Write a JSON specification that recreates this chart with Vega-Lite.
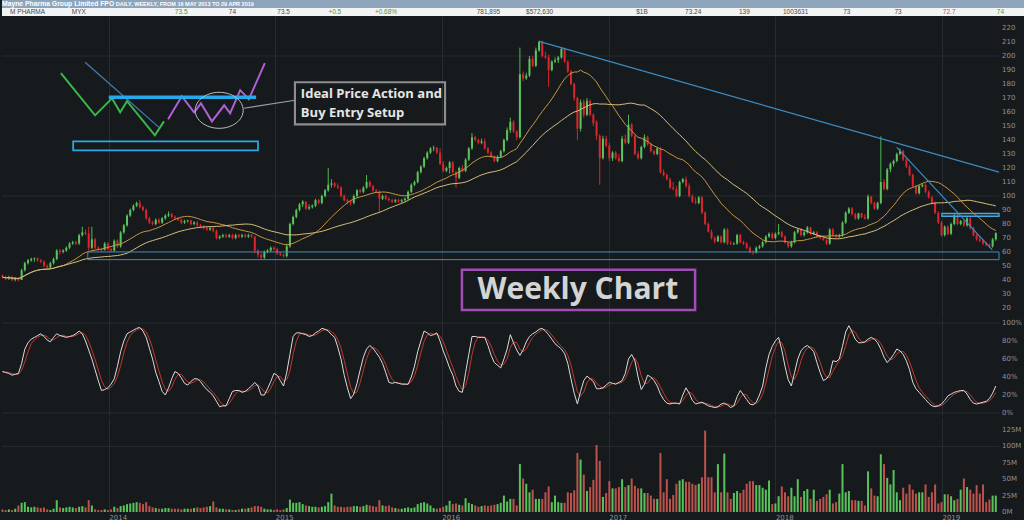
{
  "$schema": "https://vega.github.io/schema/vega-lite/v6.json",
  "background": "#161a1d",
  "padding": 0,
  "spacing": 0,
  "resolve": {"scale": {"color": "independent", "stroke": "independent", "strokeWidth": "independent", "x": "independent", "y": "independent"}},
  "config": {
    "view": {"stroke": null},
    "axis": {"labelFont": "DejaVu Sans", "labelFontSize": 7, "labelColor": "#8e9399", "domain": false, "ticks": false, "grid": false, "title": null, "labelFlush": false, "labelOverlap": false, "labelBound": false},
    "legend": {"disable": true}
  },
  "datasets": {
    "w": [
      {"d":"2013-05-13","o":43,"h":44,"l":41,"c":42,"v":4,"k":46},
      {"d":"2013-05-20","o":42,"h":43,"l":40,"c":41,"v":3,"k":45},
      {"d":"2013-05-27","o":41,"h":43,"l":40,"c":42,"v":4,"k":44},
      {"d":"2013-06-03","o":42,"h":43,"l":39,"c":40,"v":3,"k":42},
      {"d":"2013-06-10","o":40,"h":42,"l":39,"c":41,"v":5,"k":43},
      {"d":"2013-06-17","o":41,"h":42,"l":39,"c":40,"v":10,"k":44},
      {"d":"2013-06-24","o":40,"h":48,"l":40,"c":47,"v":14,"k":55},
      {"d":"2013-07-01","o":47,"h":53,"l":46,"c":52,"v":15,"k":71},
      {"d":"2013-07-08","o":52,"h":55,"l":51,"c":54,"v":8,"k":78},
      {"d":"2013-07-15","o":54,"h":56,"l":53,"c":55,"v":7,"k":82},
      {"d":"2013-07-22","o":55,"h":56,"l":53,"c":55.5,"v":8,"k":84},
      {"d":"2013-07-29","o":55.5,"h":56,"l":53,"c":54,"v":7,"k":86},
      {"d":"2013-08-05","o":54,"h":55,"l":52,"c":53,"v":6,"k":88},
      {"d":"2013-08-12","o":53,"h":54,"l":49,"c":50,"v":7,"k":85},
      {"d":"2013-08-19","o":50,"h":51,"l":48,"c":49,"v":4,"k":81},
      {"d":"2013-08-26","o":49,"h":53,"l":48,"c":52,"v":3,"k":79},
      {"d":"2013-09-02","o":52,"h":56,"l":51,"c":55,"v":5,"k":84},
      {"d":"2013-09-09","o":55,"h":62,"l":54,"c":61,"v":18,"k":88},
      {"d":"2013-09-16","o":61,"h":62,"l":58,"c":60,"v":7,"k":86},
      {"d":"2013-09-23","o":60,"h":62,"l":59,"c":61,"v":6,"k":85},
      {"d":"2013-09-30","o":61,"h":64,"l":60,"c":63,"v":7,"k":84},
      {"d":"2013-10-07","o":63,"h":67,"l":62,"c":66,"v":8,"k":85},
      {"d":"2013-10-14","o":66,"h":68,"l":65,"c":67,"v":7,"k":86},
      {"d":"2013-10-21","o":67,"h":68,"l":65,"c":66,"v":6,"k":88},
      {"d":"2013-10-28","o":66,"h":73,"l":65,"c":72,"v":8,"k":91},
      {"d":"2013-11-04","o":72,"h":78,"l":71,"c":74,"v":9,"k":88},
      {"d":"2013-11-11","o":74,"h":76,"l":72,"c":73,"v":7,"k":80},
      {"d":"2013-11-18","o":73,"h":78,"l":61,"c":63,"v":18,"k":70},
      {"d":"2013-11-25","o":63,"h":78,"l":62,"c":69,"v":10,"k":60},
      {"d":"2013-12-02","o":69,"h":70,"l":62,"c":63,"v":4,"k":48},
      {"d":"2013-12-09","o":63,"h":64,"l":61,"c":62,"v":3,"k":36},
      {"d":"2013-12-16","o":62,"h":63,"l":60,"c":61.5,"v":3,"k":25},
      {"d":"2013-12-23","o":61.5,"h":67,"l":61,"c":66,"v":4,"k":26},
      {"d":"2013-12-30","o":66,"h":67,"l":61,"c":62,"v":3,"k":28},
      {"d":"2014-01-06","o":62,"h":63,"l":60,"c":61,"v":4,"k":32},
      {"d":"2014-01-13","o":61,"h":69,"l":60,"c":68,"v":8,"k":38},
      {"d":"2014-01-20","o":68,"h":69,"l":63,"c":64,"v":6,"k":52},
      {"d":"2014-01-27","o":64,"h":75,"l":63,"c":74,"v":9,"k":68},
      {"d":"2014-02-03","o":74,"h":80,"l":73,"c":79,"v":10,"k":80},
      {"d":"2014-02-10","o":79,"h":87,"l":78,"c":86,"v":12,"k":88},
      {"d":"2014-02-17","o":86,"h":91,"l":85,"c":90,"v":13,"k":90},
      {"d":"2014-02-24","o":90,"h":94,"l":89,"c":93,"v":14,"k":92},
      {"d":"2014-03-03","o":93,"h":96,"l":92,"c":95,"v":15,"k":94},
      {"d":"2014-03-10","o":95,"h":97,"l":91,"c":92,"v":14,"k":95},
      {"d":"2014-03-17","o":92,"h":93,"l":89,"c":90,"v":12,"k":91},
      {"d":"2014-03-24","o":90,"h":91,"l":83,"c":84,"v":15,"k":84},
      {"d":"2014-03-31","o":84,"h":85,"l":80,"c":81,"v":9,"k":72},
      {"d":"2014-04-07","o":81,"h":82,"l":79,"c":80,"v":7,"k":60},
      {"d":"2014-04-14","o":80,"h":84,"l":79,"c":83,"v":6,"k":45},
      {"d":"2014-04-21","o":83,"h":84,"l":80,"c":81,"v":5,"k":35},
      {"d":"2014-04-28","o":81,"h":85,"l":80,"c":84,"v":5,"k":24},
      {"d":"2014-05-05","o":84,"h":87,"l":83,"c":86,"v":6,"k":20},
      {"d":"2014-05-12","o":86,"h":89,"l":85,"c":87,"v":6,"k":28},
      {"d":"2014-05-19","o":87,"h":88,"l":84,"c":85,"v":5,"k":38},
      {"d":"2014-05-26","o":85,"h":86,"l":83,"c":84,"v":5,"k":46},
      {"d":"2014-06-02","o":84,"h":85,"l":82,"c":83,"v":5,"k":44},
      {"d":"2014-06-09","o":83,"h":84,"l":80,"c":81,"v":4,"k":39},
      {"d":"2014-06-16","o":81,"h":83,"l":80,"c":82,"v":5,"k":33},
      {"d":"2014-06-23","o":82,"h":83,"l":81,"c":82.5,"v":5,"k":31},
      {"d":"2014-06-30","o":82.5,"h":83,"l":79,"c":80,"v":5,"k":35},
      {"d":"2014-07-07","o":80,"h":82,"l":79,"c":81,"v":6,"k":38},
      {"d":"2014-07-14","o":81,"h":82,"l":78,"c":79,"v":7,"k":38},
      {"d":"2014-07-21","o":79,"h":80,"l":77,"c":78,"v":6,"k":35},
      {"d":"2014-07-28","o":78,"h":79,"l":76,"c":77,"v":7,"k":30},
      {"d":"2014-08-04","o":77,"h":78,"l":75,"c":76,"v":8,"k":26},
      {"d":"2014-08-11","o":76,"h":78,"l":75,"c":77,"v":9,"k":23},
      {"d":"2014-08-18","o":77,"h":78,"l":74,"c":75,"v":16,"k":19},
      {"d":"2014-08-25","o":75,"h":76,"l":69,"c":70,"v":7,"k":13},
      {"d":"2014-09-01","o":70,"h":72,"l":69,"c":71,"v":5,"k":7},
      {"d":"2014-09-08","o":71,"h":73,"l":70,"c":72,"v":5,"k":8},
      {"d":"2014-09-15","o":72,"h":73,"l":70,"c":71,"v":4,"k":8},
      {"d":"2014-09-22","o":71,"h":73,"l":70,"c":72,"v":4,"k":16},
      {"d":"2014-09-29","o":72,"h":73,"l":69,"c":70,"v":3,"k":24},
      {"d":"2014-10-06","o":70,"h":73,"l":69,"c":72,"v":3,"k":25},
      {"d":"2014-10-13","o":72,"h":73,"l":70,"c":71,"v":4,"k":25},
      {"d":"2014-10-20","o":71,"h":73,"l":70,"c":72,"v":5,"k":23},
      {"d":"2014-10-27","o":72,"h":73,"l":70,"c":71,"v":5,"k":24},
      {"d":"2014-11-03","o":71,"h":73,"l":70,"c":72,"v":6,"k":27},
      {"d":"2014-11-10","o":72,"h":73,"l":70,"c":71,"v":7,"k":30},
      {"d":"2014-11-17","o":71,"h":71,"l":59,"c":61,"v":9,"k":34},
      {"d":"2014-11-24","o":61,"h":62,"l":56,"c":58,"v":9,"k":30},
      {"d":"2014-12-01","o":58,"h":59,"l":55,"c":56,"v":8,"k":20},
      {"d":"2014-12-08","o":56,"h":61,"l":55,"c":60,"v":5,"k":20},
      {"d":"2014-12-15","o":60,"h":62,"l":59,"c":61,"v":4,"k":27},
      {"d":"2014-12-22","o":61,"h":64,"l":60,"c":63,"v":4,"k":35},
      {"d":"2014-12-29","o":63,"h":64,"l":61,"c":62,"v":3,"k":44},
      {"d":"2015-01-05","o":62,"h":63,"l":58,"c":59,"v":4,"k":42},
      {"d":"2015-01-12","o":59,"h":60,"l":57,"c":58,"v":3,"k":36},
      {"d":"2015-01-19","o":58,"h":59,"l":56,"c":57,"v":4,"k":30},
      {"d":"2015-01-26","o":57,"h":66,"l":56,"c":64,"v":6,"k":45},
      {"d":"2015-02-02","o":64,"h":81,"l":63,"c":80,"v":19,"k":65},
      {"d":"2015-02-09","o":80,"h":86,"l":79,"c":85,"v":14,"k":85},
      {"d":"2015-02-16","o":85,"h":91,"l":84,"c":90,"v":14,"k":89},
      {"d":"2015-02-23","o":90,"h":95,"l":89,"c":94,"v":15,"k":89},
      {"d":"2015-03-02","o":94,"h":97,"l":92,"c":96,"v":12,"k":88},
      {"d":"2015-03-09","o":96,"h":96,"l":90,"c":91,"v":10,"k":87},
      {"d":"2015-03-16","o":91,"h":94,"l":90,"c":92,"v":9,"k":85},
      {"d":"2015-03-23","o":92,"h":94,"l":91,"c":93,"v":8,"k":86},
      {"d":"2015-03-30","o":93,"h":98,"l":92,"c":97,"v":8,"k":89},
      {"d":"2015-04-06","o":97,"h":98,"l":94,"c":95,"v":7,"k":91},
      {"d":"2015-04-13","o":95,"h":101,"l":94,"c":100,"v":8,"k":94},
      {"d":"2015-04-20","o":100,"h":105,"l":99,"c":104,"v":9,"k":93},
      {"d":"2015-04-27","o":104,"h":120,"l":103,"c":108,"v":15,"k":91},
      {"d":"2015-05-04","o":108,"h":112,"l":106,"c":109,"v":28,"k":87},
      {"d":"2015-05-11","o":109,"h":110,"l":106,"c":107,"v":10,"k":84},
      {"d":"2015-05-18","o":107,"h":109,"l":105,"c":106,"v":8,"k":73},
      {"d":"2015-05-25","o":106,"h":107,"l":99,"c":100,"v":8,"k":60},
      {"d":"2015-06-01","o":100,"h":101,"l":96,"c":97,"v":7,"k":42},
      {"d":"2015-06-08","o":97,"h":98,"l":94,"c":96,"v":8,"k":28},
      {"d":"2015-06-15","o":96,"h":97,"l":93,"c":95,"v":8,"k":16},
      {"d":"2015-06-22","o":95,"h":101,"l":94,"c":100,"v":9,"k":21},
      {"d":"2015-06-29","o":100,"h":105,"l":99,"c":104,"v":9,"k":33},
      {"d":"2015-07-06","o":104,"h":105,"l":102,"c":103,"v":8,"k":48},
      {"d":"2015-07-13","o":103,"h":107,"l":102,"c":106,"v":9,"k":62},
      {"d":"2015-07-20","o":106,"h":115,"l":105,"c":110,"v":11,"k":71},
      {"d":"2015-07-27","o":110,"h":111,"l":106,"c":107,"v":10,"k":75},
      {"d":"2015-08-03","o":107,"h":108,"l":103,"c":104,"v":9,"k":72},
      {"d":"2015-08-10","o":104,"h":105,"l":102,"c":103,"v":8,"k":67},
      {"d":"2015-08-17","o":103,"h":104,"l":88,"c":98,"v":18,"k":62},
      {"d":"2015-08-24","o":98,"h":101,"l":97,"c":100,"v":10,"k":55},
      {"d":"2015-08-31","o":100,"h":101,"l":97,"c":98,"v":9,"k":45},
      {"d":"2015-09-07","o":98,"h":99,"l":96,"c":97,"v":10,"k":34},
      {"d":"2015-09-14","o":97,"h":98,"l":95,"c":96,"v":7,"k":33},
      {"d":"2015-09-21","o":96,"h":98,"l":95,"c":97,"v":6,"k":34},
      {"d":"2015-09-28","o":97,"h":98,"l":95,"c":96,"v":5,"k":33},
      {"d":"2015-10-05","o":96,"h":98,"l":95,"c":97,"v":5,"k":32},
      {"d":"2015-10-12","o":97,"h":99,"l":96,"c":98,"v":6,"k":32},
      {"d":"2015-10-19","o":98,"h":104,"l":97,"c":103,"v":7,"k":32},
      {"d":"2015-10-26","o":103,"h":109,"l":102,"c":108,"v":6,"k":40},
      {"d":"2015-11-02","o":108,"h":111,"l":107,"c":110,"v":7,"k":52},
      {"d":"2015-11-09","o":110,"h":118,"l":109,"c":117,"v":12,"k":68},
      {"d":"2015-11-16","o":117,"h":122,"l":116,"c":121,"v":14,"k":80},
      {"d":"2015-11-23","o":121,"h":128,"l":120,"c":127,"v":15,"k":91},
      {"d":"2015-11-30","o":127,"h":132,"l":126,"c":131,"v":13,"k":89},
      {"d":"2015-12-07","o":131,"h":135,"l":130,"c":134,"v":10,"k":86},
      {"d":"2015-12-14","o":134,"h":136,"l":132,"c":134.5,"v":6,"k":87},
      {"d":"2015-12-21","o":134.5,"h":135,"l":130,"c":131,"v":5,"k":89},
      {"d":"2015-12-28","o":131,"h":134,"l":122,"c":123,"v":6,"k":80},
      {"d":"2016-01-04","o":123,"h":125,"l":117,"c":118,"v":8,"k":69},
      {"d":"2016-01-11","o":118,"h":121,"l":117,"c":120,"v":10,"k":60},
      {"d":"2016-01-18","o":120,"h":125,"l":116,"c":124,"v":17,"k":50},
      {"d":"2016-01-25","o":124,"h":125,"l":116,"c":117,"v":12,"k":42},
      {"d":"2016-02-01","o":117,"h":118,"l":106,"c":113,"v":13,"k":30},
      {"d":"2016-02-08","o":113,"h":121,"l":112,"c":120,"v":11,"k":24},
      {"d":"2016-02-15","o":120,"h":122,"l":117,"c":118,"v":10,"k":23},
      {"d":"2016-02-22","o":118,"h":127,"l":117,"c":126,"v":21,"k":45},
      {"d":"2016-02-29","o":126,"h":135,"l":125,"c":134,"v":14,"k":65},
      {"d":"2016-03-07","o":134,"h":145,"l":133,"c":142,"v":12,"k":85},
      {"d":"2016-03-14","o":142,"h":143,"l":139,"c":140,"v":10,"k":85},
      {"d":"2016-03-21","o":140,"h":141,"l":137,"c":138,"v":8,"k":84},
      {"d":"2016-03-28","o":138,"h":141,"l":137,"c":139,"v":9,"k":84},
      {"d":"2016-04-04","o":139,"h":141,"l":133,"c":134,"v":10,"k":84},
      {"d":"2016-04-11","o":134,"h":135,"l":130,"c":131,"v":9,"k":75},
      {"d":"2016-04-18","o":131,"h":132,"l":127,"c":128,"v":10,"k":64},
      {"d":"2016-04-25","o":128,"h":129,"l":124,"c":125,"v":11,"k":56},
      {"d":"2016-05-02","o":125,"h":129,"l":124,"c":128,"v":12,"k":53},
      {"d":"2016-05-09","o":128,"h":133,"l":127,"c":132,"v":14,"k":50},
      {"d":"2016-05-16","o":132,"h":141,"l":131,"c":140,"v":25,"k":60},
      {"d":"2016-05-23","o":140,"h":149,"l":139,"c":147,"v":16,"k":71},
      {"d":"2016-05-30","o":147,"h":156,"l":145,"c":153,"v":20,"k":87},
      {"d":"2016-06-06","o":153,"h":154,"l":145,"c":146,"v":20,"k":78},
      {"d":"2016-06-13","o":146,"h":147,"l":140,"c":142,"v":10,"k":70},
      {"d":"2016-06-20","o":142,"h":206,"l":141,"c":187,"v":73,"k":64},
      {"d":"2016-06-27","o":187,"h":189,"l":182,"c":184,"v":51,"k":70},
      {"d":"2016-07-04","o":184,"h":188,"l":183,"c":186,"v":43,"k":79},
      {"d":"2016-07-11","o":186,"h":200,"l":185,"c":198,"v":30,"k":85},
      {"d":"2016-07-18","o":198,"h":200,"l":192,"c":193,"v":34,"k":88},
      {"d":"2016-07-25","o":193,"h":206,"l":192,"c":204,"v":20,"k":90},
      {"d":"2016-08-01","o":204,"h":211,"l":203,"c":210,"v":20,"k":93},
      {"d":"2016-08-08","o":210,"h":211,"l":199,"c":200,"v":20,"k":94},
      {"d":"2016-08-15","o":200,"h":203,"l":198,"c":199,"v":30,"k":91},
      {"d":"2016-08-22","o":199,"h":201,"l":178,"c":190,"v":39,"k":87},
      {"d":"2016-08-29","o":190,"h":197,"l":189,"c":196,"v":15,"k":82},
      {"d":"2016-09-05","o":196,"h":199,"l":195,"c":197,"v":25,"k":77},
      {"d":"2016-09-12","o":197,"h":200,"l":195,"c":199,"v":15,"k":74},
      {"d":"2016-09-19","o":199,"h":206,"l":198,"c":205,"v":14,"k":71},
      {"d":"2016-09-26","o":205,"h":206,"l":195,"c":196,"v":14,"k":66},
      {"d":"2016-10-03","o":196,"h":197,"l":188,"c":189,"v":30,"k":55},
      {"d":"2016-10-10","o":189,"h":190,"l":179,"c":180,"v":29,"k":38},
      {"d":"2016-10-17","o":180,"h":181,"l":168,"c":170,"v":33,"k":22},
      {"d":"2016-10-24","o":170,"h":171,"l":140,"c":148,"v":90,"k":10},
      {"d":"2016-10-31","o":148,"h":169,"l":146,"c":167,"v":80,"k":24},
      {"d":"2016-11-07","o":167,"h":169,"l":156,"c":158,"v":57,"k":36},
      {"d":"2016-11-14","o":158,"h":170,"l":157,"c":168,"v":32,"k":41},
      {"d":"2016-11-21","o":168,"h":169,"l":157,"c":158,"v":38,"k":38},
      {"d":"2016-11-28","o":158,"h":159,"l":150,"c":152,"v":49,"k":35},
      {"d":"2016-12-05","o":153,"h":154,"l":140,"c":143,"v":102,"k":27},
      {"d":"2016-12-12","o":143,"h":144,"l":108,"c":127,"v":78,"k":27},
      {"d":"2016-12-19","o":127,"h":143,"l":126,"c":141,"v":23,"k":28},
      {"d":"2016-12-26","o":141,"h":143,"l":135,"c":136,"v":29,"k":31},
      {"d":"2017-01-02","o":136,"h":138,"l":125,"c":127,"v":47,"k":34},
      {"d":"2017-01-09","o":127,"h":132,"l":125,"c":131,"v":36,"k":33},
      {"d":"2017-01-16","o":131,"h":132,"l":126,"c":127,"v":36,"k":32},
      {"d":"2017-01-23","o":127,"h":130,"l":124,"c":125,"v":38,"k":34},
      {"d":"2017-01-30","o":125,"h":143,"l":124,"c":141,"v":50,"k":36},
      {"d":"2017-02-06","o":141,"h":144,"l":137,"c":138,"v":38,"k":44},
      {"d":"2017-02-13","o":138,"h":158,"l":137,"c":151,"v":41,"k":60},
      {"d":"2017-02-20","o":151,"h":152,"l":142,"c":143,"v":51,"k":65},
      {"d":"2017-02-27","o":143,"h":144,"l":129,"c":130,"v":40,"k":58},
      {"d":"2017-03-06","o":130,"h":132,"l":126,"c":127,"v":36,"k":40},
      {"d":"2017-03-13","o":127,"h":136,"l":126,"c":135,"v":36,"k":26},
      {"d":"2017-03-20","o":135,"h":144,"l":134,"c":142,"v":29,"k":32},
      {"d":"2017-03-27","o":142,"h":143,"l":136,"c":137,"v":29,"k":42},
      {"d":"2017-04-03","o":137,"h":138,"l":131,"c":132,"v":25,"k":40},
      {"d":"2017-04-10","o":132,"h":133,"l":129,"c":130,"v":20,"k":36},
      {"d":"2017-04-17","o":130,"h":135,"l":129,"c":134,"v":20,"k":30},
      {"d":"2017-04-24","o":134,"h":135,"l":116,"c":117,"v":90,"k":21},
      {"d":"2017-05-01","o":117,"h":119,"l":114,"c":115,"v":30,"k":15},
      {"d":"2017-05-08","o":115,"h":116,"l":111,"c":112,"v":50,"k":11},
      {"d":"2017-05-15","o":112,"h":113,"l":105,"c":106,"v":20,"k":10},
      {"d":"2017-05-22","o":106,"h":110,"l":104,"c":105,"v":26,"k":11},
      {"d":"2017-05-29","o":105,"h":107,"l":99,"c":100,"v":43,"k":11},
      {"d":"2017-06-05","o":100,"h":111,"l":99,"c":110,"v":48,"k":10},
      {"d":"2017-06-12","o":110,"h":113,"l":109,"c":112,"v":50,"k":20},
      {"d":"2017-06-19","o":112,"h":114,"l":106,"c":107,"v":46,"k":28},
      {"d":"2017-06-26","o":107,"h":109,"l":99,"c":100,"v":46,"k":22},
      {"d":"2017-07-03","o":100,"h":101,"l":95,"c":96,"v":43,"k":14},
      {"d":"2017-07-10","o":96,"h":99,"l":94,"c":95,"v":41,"k":10},
      {"d":"2017-07-17","o":95,"h":100,"l":94,"c":99,"v":43,"k":11},
      {"d":"2017-07-24","o":99,"h":100,"l":87,"c":88,"v":53,"k":12},
      {"d":"2017-07-31","o":88,"h":89,"l":79,"c":80,"v":124,"k":10},
      {"d":"2017-08-07","o":80,"h":81,"l":74,"c":74.5,"v":53,"k":8},
      {"d":"2017-08-14","o":74.5,"h":76,"l":69,"c":70,"v":53,"k":7},
      {"d":"2017-08-21","o":70,"h":71,"l":66,"c":67.6,"v":30,"k":6},
      {"d":"2017-08-28","o":67.6,"h":72,"l":67,"c":71,"v":73,"k":7},
      {"d":"2017-09-04","o":71,"h":72,"l":66,"c":67,"v":30,"k":10},
      {"d":"2017-09-11","o":67,"h":77,"l":66,"c":76,"v":89,"k":11},
      {"d":"2017-09-18","o":76,"h":77,"l":65,"c":66,"v":30,"k":9},
      {"d":"2017-09-25","o":66,"h":68,"l":65,"c":65.5,"v":20,"k":6},
      {"d":"2017-10-02","o":65.5,"h":67,"l":65,"c":66,"v":29,"k":8},
      {"d":"2017-10-09","o":66,"h":73,"l":65,"c":72,"v":32,"k":18},
      {"d":"2017-10-16","o":72,"h":73,"l":66,"c":67,"v":29,"k":25},
      {"d":"2017-10-23","o":67,"h":68,"l":65,"c":66,"v":34,"k":20},
      {"d":"2017-10-30","o":66,"h":67,"l":62,"c":63,"v":43,"k":15},
      {"d":"2017-11-06","o":63,"h":64,"l":59,"c":60,"v":47,"k":10},
      {"d":"2017-11-13","o":60,"h":61,"l":58,"c":59.6,"v":47,"k":9},
      {"d":"2017-11-20","o":59.6,"h":64,"l":59,"c":63,"v":41,"k":12},
      {"d":"2017-11-27","o":63,"h":65,"l":62,"c":64,"v":41,"k":20},
      {"d":"2017-12-04","o":64,"h":68,"l":63,"c":67,"v":37,"k":30},
      {"d":"2017-12-11","o":67,"h":72,"l":66,"c":71,"v":34,"k":50},
      {"d":"2017-12-18","o":71,"h":74,"l":70,"c":73,"v":48,"k":65},
      {"d":"2017-12-25","o":73,"h":74,"l":69,"c":70,"v":12,"k":74},
      {"d":"2018-01-01","o":70,"h":74,"l":69,"c":73,"v":13,"k":80},
      {"d":"2018-01-08","o":73,"h":80,"l":72,"c":74,"v":24,"k":84},
      {"d":"2018-01-15","o":74,"h":75,"l":70,"c":71,"v":39,"k":70},
      {"d":"2018-01-22","o":71,"h":72,"l":66,"c":66.6,"v":30,"k":52},
      {"d":"2018-01-29","o":66.6,"h":67,"l":63,"c":64,"v":24,"k":37},
      {"d":"2018-02-05","o":64,"h":68,"l":63,"c":67,"v":37,"k":30},
      {"d":"2018-02-12","o":67,"h":75,"l":66,"c":74,"v":24,"k":45},
      {"d":"2018-02-19","o":74,"h":77,"l":73,"c":76,"v":50,"k":60},
      {"d":"2018-02-26","o":76,"h":77,"l":71,"c":72,"v":23,"k":69},
      {"d":"2018-03-05","o":72,"h":75,"l":71,"c":74,"v":32,"k":73},
      {"d":"2018-03-12","o":74,"h":78.5,"l":73,"c":77.5,"v":35,"k":75},
      {"d":"2018-03-19","o":77.5,"h":78,"l":72,"c":73,"v":20,"k":72},
      {"d":"2018-03-26","o":73,"h":75,"l":72,"c":74,"v":34,"k":68},
      {"d":"2018-04-02","o":74,"h":75,"l":70,"c":71,"v":17,"k":56},
      {"d":"2018-04-09","o":71,"h":72,"l":69,"c":70,"v":20,"k":45},
      {"d":"2018-04-16","o":70,"h":71,"l":68,"c":68.5,"v":23,"k":36},
      {"d":"2018-04-23","o":68.5,"h":69,"l":65,"c":66,"v":27,"k":38},
      {"d":"2018-04-30","o":66,"h":77,"l":65,"c":76,"v":34,"k":43},
      {"d":"2018-05-07","o":76,"h":77,"l":71,"c":72,"v":13,"k":58},
      {"d":"2018-05-14","o":72,"h":73,"l":70,"c":71,"v":15,"k":57},
      {"d":"2018-05-21","o":71,"h":73,"l":70,"c":72,"v":28,"k":60},
      {"d":"2018-05-28","o":72,"h":82,"l":71,"c":81,"v":73,"k":74},
      {"d":"2018-06-04","o":81,"h":89,"l":80,"c":88,"v":30,"k":90},
      {"d":"2018-06-11","o":88,"h":92,"l":87,"c":91,"v":32,"k":97},
      {"d":"2018-06-18","o":91,"h":92,"l":86,"c":87,"v":18,"k":90},
      {"d":"2018-06-25","o":87,"h":88,"l":83,"c":84,"v":18,"k":82},
      {"d":"2018-07-02","o":84,"h":88,"l":83,"c":87.5,"v":17,"k":78},
      {"d":"2018-07-09","o":87.5,"h":88,"l":84,"c":85,"v":17,"k":78},
      {"d":"2018-07-16","o":85,"h":87,"l":83,"c":84,"v":10,"k":79},
      {"d":"2018-07-23","o":84,"h":101,"l":83,"c":99.6,"v":62,"k":82},
      {"d":"2018-07-30","o":99.6,"h":100,"l":94,"c":95,"v":36,"k":84},
      {"d":"2018-08-06","o":95,"h":96,"l":90,"c":91,"v":25,"k":82},
      {"d":"2018-08-13","o":91,"h":96,"l":90,"c":95,"v":24,"k":78},
      {"d":"2018-08-20","o":95,"h":142.6,"l":94,"c":110,"v":88,"k":71},
      {"d":"2018-08-27","o":110,"h":112,"l":104,"c":105,"v":73,"k":62},
      {"d":"2018-09-03","o":105,"h":120,"l":104,"c":119,"v":52,"k":56},
      {"d":"2018-09-10","o":119,"h":124,"l":117,"c":123,"v":42,"k":60},
      {"d":"2018-09-17","o":123,"h":126,"l":121,"c":125,"v":64,"k":65},
      {"d":"2018-09-24","o":125,"h":131,"l":124,"c":130,"v":30,"k":71},
      {"d":"2018-10-01","o":130,"h":134,"l":129,"c":132,"v":18,"k":69},
      {"d":"2018-10-08","o":132,"h":133,"l":125,"c":126,"v":37,"k":65},
      {"d":"2018-10-15","o":126,"h":127,"l":120,"c":121,"v":28,"k":58},
      {"d":"2018-10-22","o":121,"h":122,"l":114,"c":115,"v":42,"k":48},
      {"d":"2018-10-29","o":115,"h":116,"l":106,"c":107,"v":34,"k":34},
      {"d":"2018-11-05","o":107,"h":108,"l":101,"c":102,"v":28,"k":27},
      {"d":"2018-11-12","o":102,"h":108,"l":101,"c":107,"v":30,"k":23},
      {"d":"2018-11-19","o":107,"h":109,"l":106,"c":108,"v":30,"k":19},
      {"d":"2018-11-26","o":108,"h":109,"l":102,"c":103,"v":42,"k":15},
      {"d":"2018-12-03","o":103,"h":104,"l":98,"c":99,"v":23,"k":11},
      {"d":"2018-12-10","o":99,"h":100,"l":94,"c":95,"v":30,"k":8},
      {"d":"2018-12-17","o":95,"h":96,"l":87,"c":88,"v":42,"k":7},
      {"d":"2018-12-24","o":88,"h":89,"l":80,"c":81,"v":13,"k":8},
      {"d":"2018-12-31","o":81,"h":82,"l":71,"c":72,"v":15,"k":10},
      {"d":"2019-01-07","o":72,"h":79,"l":71,"c":78,"v":27,"k":14},
      {"d":"2019-01-14","o":78,"h":79,"l":72,"c":73,"v":27,"k":19},
      {"d":"2019-01-21","o":73,"h":81,"l":72,"c":80,"v":24,"k":21},
      {"d":"2019-01-28","o":80,"h":87,"l":79,"c":86,"v":18,"k":23},
      {"d":"2019-02-04","o":86,"h":87,"l":79,"c":80,"v":20,"k":24},
      {"d":"2019-02-11","o":80,"h":83,"l":79,"c":82,"v":34,"k":25},
      {"d":"2019-02-18","o":82,"h":83,"l":78,"c":79,"v":51,"k":25},
      {"d":"2019-02-25","o":79,"h":85,"l":78,"c":84,"v":38,"k":21},
      {"d":"2019-03-04","o":84,"h":85,"l":76,"c":77,"v":34,"k":15},
      {"d":"2019-03-11","o":77,"h":78,"l":71,"c":72,"v":28,"k":11},
      {"d":"2019-03-18","o":72,"h":73,"l":68,"c":69,"v":41,"k":10},
      {"d":"2019-03-25","o":69,"h":71,"l":67,"c":68,"v":28,"k":11},
      {"d":"2019-04-01","o":68,"h":69,"l":65,"c":66,"v":42,"k":12},
      {"d":"2019-04-08","o":66,"h":67,"l":64,"c":65,"v":15,"k":13},
      {"d":"2019-04-15","o":65,"h":66,"l":63,"c":64,"v":19,"k":16},
      {"d":"2019-04-22","o":64,"h":70,"l":63,"c":69,"v":25,"k":22},
      {"d":"2019-04-29","o":69,"h":74,"l":68,"c":73.5,"v":25,"k":30}
    ],
    "ann": [
      {"g":"trend","d":"2016-08-01","p":210.5},
      {"g":"trend","d":"2019-05-06","p":117},
      {"g":"trend2","d":"2018-09-24","p":134.7},
      {"g":"trend2","d":"2019-04-21","p":61.6},
      {"g":"green","d":"2013-09-18","p":187.7},
      {"g":"green","d":"2013-12-02","p":157.6},
      {"g":"green","d":"2014-01-08","p":169.8},
      {"g":"green","d":"2014-01-26","p":159.8},
      {"g":"green","d":"2014-02-10","p":167.7},
      {"g":"green","d":"2014-04-12","p":143.3},
      {"g":"green","d":"2014-05-02","p":153.3},
      {"g":"purple","d":"2014-05-11","p":154.8},
      {"g":"purple","d":"2014-06-10","p":171.3},
      {"g":"purple","d":"2014-07-07","p":159.8},
      {"g":"purple","d":"2014-07-22","p":166.2},
      {"g":"purple","d":"2014-08-15","p":153.3},
      {"g":"purple","d":"2014-09-11","p":164.8},
      {"g":"purple","d":"2014-09-24","p":159.1},
      {"g":"purple","d":"2014-10-16","p":175.6},
      {"g":"purple","d":"2014-11-04","p":169.1},
      {"g":"purple","d":"2014-12-09","p":194.9},
      {"g":"blue","d":"2014-01-01","p":170.5},
      {"g":"blue","d":"2014-11-20","p":170.5},
      {"g":"diag","d":"2013-11-10","p":195.6},
      {"g":"diag","d":"2014-04-21","p":149},
      {"g":"conn","d":"2014-10-24","p":162.7},
      {"g":"conn","d":"2015-02-13","p":168.4}
    ],
    "box": [
      {"g":"support","d":"2013-11-16","d2":"2019-05-06","p":54.5,"p2":60},
      {"g":"resist","d":"2019-01-01","d2":"2019-05-06","p":85.5,"p2":87.5},
      {"g":"inset","d":"2013-10-15","d2":"2014-11-24","p":132.5,"p2":139},
      {"g":"ideal","d":"2015-02-13","d2":"2016-01-08","p":151.2,"p2":181.3},
      {"g":"weekly","d":"2016-02-14","d2":"2017-07-09","p":18.6,"p2":47.2}
    ],
    "txt": [
      {"g":"ideal","t":"Ideal Price Action and","d":"2015-02-26","p":172.7},
      {"g":"ideal","t":"Buy Entry Setup","d":"2015-02-26","p":159.1},
      {"g":"weekly","t":"Weekly Chart","d":"2016-10-25","p":32.9}
    ],
    "pticks": [
      {"p":20,"lab":"20"},{"p":30,"lab":"30"},{"p":40,"lab":"40"},{"p":50,"lab":"50"},{"p":60,"lab":"60"},
      {"p":70,"lab":"70"},{"p":80,"lab":"80"},{"p":90,"lab":"90"},{"p":100,"lab":"100"},{"p":110,"lab":"110"},
      {"p":120,"lab":"120"},{"p":130,"lab":"130"},{"p":140,"lab":"140"},{"p":150,"lab":"150"},{"p":160,"lab":"160"},
      {"p":170,"lab":"170"},{"p":180,"lab":"180"},{"p":190,"lab":"190"},{"p":200,"lab":"200"},{"p":210,"lab":"210"},
      {"p":220,"lab":"220"}
    ],
    "sticks": [
      {"p":0,"lab":"0%"},{"p":20,"lab":"20%"},{"p":40,"lab":"40%"},{"p":60,"lab":"60%"},{"p":80,"lab":"80%"},{"p":100,"lab":"100%"}
    ],
    "vticks": [
      {"p":0,"lab":"0M"},{"p":25,"lab":"25M"},{"p":50,"lab":"50M"},{"p":75,"lab":"75M"},{"p":100,"lab":"100M"},{"p":125,"lab":"125M"}
    ],
    "head": [
      {"row":"title","col":"t0","kind":"title","t":"Mayne Pharma Group Limited FPO"},
      {"row":"title","col":"t1","kind":"sub","t":"DAILY, WEEKLY, FROM 16 MAY 2013 TO 29 APR 2019"},
      {"row":"quote","col":"c0","kind":"q","t":"M PHARMA"},
      {"row":"quote","col":"c1","kind":"q","t":"MYX"},
      {"row":"quote","col":"c3","kind":"up","t":"73.5"},
      {"row":"quote","col":"c4","kind":"q","t":"74"},
      {"row":"quote","col":"c5","kind":"q","t":"73.5"},
      {"row":"quote","col":"c6","kind":"up","t":"+0.5"},
      {"row":"quote","col":"c7","kind":"up","t":"+0.68%"},
      {"row":"quote","col":"c9","kind":"q","t":"781,895"},
      {"row":"quote","col":"c10","kind":"q","t":"$572,630"},
      {"row":"quote","col":"c12","kind":"q","t":"$1B"},
      {"row":"quote","col":"c13","kind":"q","t":"73.24"},
      {"row":"quote","col":"c14","kind":"q","t":"139"},
      {"row":"quote","col":"c15","kind":"q","t":"1003631"},
      {"row":"quote","col":"c16","kind":"q","t":"73"},
      {"row":"quote","col":"c17","kind":"q","t":"73"},
      {"row":"quote","col":"c18","kind":"dn","t":"72.7"},
      {"row":"quote","col":"c19","kind":"up","t":"74"}
    ]
  },
  "vconcat": [
    {
      "width": 1024,
      "height": 16,
      "resolve": {"scale": {"x": "independent"}},
      "layer": [
        {
          "data": {"values": [{"row": "title"}, {"row": "quote"}]},
          "mark": {"type": "rect"},
          "encoding": {
            "y": {"field": "row", "type": "nominal", "scale": {"domain": ["title", "quote"], "paddingInner": 0, "paddingOuter": 0}, "axis": null},
            "fill": {"field": "row", "type": "nominal", "scale": {"domain": ["title", "quote"], "range": ["#8da4ba", "#f2f3f4"]}, "legend": null}
          }
        },
        {
          "data": {"name": "head"},
          "transform": [{"filter": "datum.row == 'title'"}],
          "mark": {"type": "text", "align": "left", "baseline": "middle", "font": "Liberation Sans", "fontWeight": "bold", "color": "#ffffff"},
          "encoding": {
            "x": {"field": "col", "type": "nominal", "scale": {"type": "point", "domain": ["t0","t1","t2","t3","t4","t5","t6","t7","t8","t9"], "padding": 0}, "axis": null},
            "y": {"field": "row", "type": "nominal", "axis": null},
            "text": {"field": "t"},
            "size": {"field": "kind", "type": "nominal", "scale": {"domain": ["title", "sub"], "range": [6.8, 5.5]}, "legend": null}
          }
        },
        {
          "data": {"name": "head"},
          "transform": [{"filter": "datum.row == 'quote'"}],
          "mark": {"type": "text", "align": "center", "baseline": "middle", "font": "Liberation Sans", "fontSize": 6.5},
          "encoding": {
            "x": {"field": "col", "type": "nominal", "scale": {"domain": ["c0","c1","c2","c3","c4","c5","c6","c7","c8","c9","c10","c11","c12","c13","c14","c15","c16","c17","c18","c19"], "paddingInner": 0, "paddingOuter": 0}, "axis": null},
            "y": {"field": "row", "type": "nominal", "axis": null},
            "text": {"field": "t"},
            "color": {"field": "kind", "type": "nominal", "scale": {"domain": ["q", "up", "dn"], "range": ["#4a4a4a", "#3f9a3f", "#c0504d"]}, "legend": null}
          }
        }
      ]
    },
    {
      "width": 997,
      "height": 302,
      "data": {"name": "w"},
      "resolve": {"scale": {"strokeWidth": "independent"}},
      "encoding": {
        "x": {"field": "d", "type": "temporal", "scale": {"type": "utc", "padding": 0, "domain": [{"year": 2013, "month": 5, "date": 12, "utc": true}, {"year": 2019, "month": 5, "date": 6, "utc": true}]}, "axis": {"labels": false, "grid": true, "gridColor": "#272c31", "tickCount": {"interval": "year", "step": 1}}}
      },
      "layer": [
        {
          "data": {"values": [{"p": 100}, {"p": 200}]},
          "mark": {"type": "rule", "color": "#272c31", "strokeWidth": 1},
          "encoding": {
            "x": null,
            "y": {"field": "p", "type": "quantitative", "scale": {"domain": [12.8, 228.6], "nice": false, "zero": false}, "axis": null}
          }
        },
        {
          "data": {"name": "pticks"},
          "mark": {"type": "text", "align": "left", "baseline": "middle", "dx": 3, "font": "DejaVu Sans", "fontSize": 7, "color": "#8e9399"},
          "encoding": {
            "x": {"value": "width"},
            "y": {"field": "p", "type": "quantitative", "axis": null},
            "text": {"field": "lab"}
          }
        },
        {
          "mark": {"type": "rule", "strokeWidth": 1},
          "encoding": {
            "y": {"field": "l", "type": "quantitative", "axis": null},
            "y2": {"field": "h"},
            "color": {"condition": {"test": "datum.c >= datum.o", "value": "#4db84f"}, "value": "#d9262c"}
          }
        },
        {
          "mark": {"type": "bar", "width": 2},
          "encoding": {
            "y": {"field": "o", "type": "quantitative", "axis": null},
            "y2": {"field": "c"},
            "color": {"condition": {"test": "datum.c >= datum.o", "value": "#5cc45e"}, "value": "#d9262c"}
          }
        },
        {
          "transform": [{"window": [{"op": "mean", "field": "c", "as": "ma1"}], "frame": [-19, 0], "sort": [{"field": "d"}]}],
          "mark": {"type": "line", "color": "#c9953f", "strokeWidth": 1},
          "encoding": {"y": {"field": "ma1", "type": "quantitative", "axis": null}}
        },
        {
          "transform": [{"window": [{"op": "mean", "field": "c", "as": "ma2"}], "frame": [-39, 0], "sort": [{"field": "d"}]}],
          "mark": {"type": "line", "color": "#d6bf7a", "strokeWidth": 1},
          "encoding": {"y": {"field": "ma2", "type": "quantitative", "axis": null}}
        },
        {
          "data": {"name": "box"},
          "mark": {"type": "rect", "filled": false},
          "encoding": {
            "x2": {"field": "d2"},
            "y": {"field": "p", "type": "quantitative", "axis": null},
            "y2": {"field": "p2"},
            "color": {"field": "g", "type": "nominal", "scale": {"domain": ["support", "resist", "inset", "ideal", "weekly"], "range": ["#3d8fbf", "#4aa6dc", "#2aa8e8", "#8e8e8e", "#a24db5"]}, "legend": null},
            "strokeWidth": {"field": "g", "type": "nominal", "scale": {"domain": ["support", "resist", "inset", "ideal", "weekly"], "range": [1, 2.5, 2, 1, 2]}, "legend": null}
          }
        },
        {
          "data": {"name": "ann"},
          "transform": [{"filter": "datum.g == 'trend' || datum.g == 'trend2' || datum.g == 'diag' || datum.g == 'conn'"}],
          "mark": {"type": "line", "strokeWidth": 1.2},
          "encoding": {
            "y": {"field": "p", "type": "quantitative", "axis": null},
            "detail": {"field": "g"},
            "stroke": {"field": "g", "type": "nominal", "scale": {"domain": ["trend", "trend2", "green", "purple", "blue", "diag", "conn"], "range": ["#3b8cc4", "#3b8cc4", "#3cb54a", "#b25fd6", "#27a8e8", "#3f7fb5", "#9aa0a6"]}, "legend": null}
          }
        },
        {
          "data": {"name": "ann"},
          "transform": [{"filter": "datum.g == 'green' || datum.g == 'purple'"}],
          "mark": {"type": "line", "strokeWidth": 2},
          "encoding": {
            "y": {"field": "p", "type": "quantitative", "axis": null},
            "detail": {"field": "g"},
            "stroke": {"field": "g", "type": "nominal"}
          }
        },
        {
          "data": {"name": "ann"},
          "transform": [{"filter": "datum.g == 'blue'"}],
          "mark": {"type": "line", "strokeWidth": 3.5},
          "encoding": {
            "y": {"field": "p", "type": "quantitative", "axis": null},
            "stroke": {"field": "g", "type": "nominal"}
          }
        },
        {
          "data": {"values": [{"d": "2014-08-31", "p": 161.2}]},
          "mark": {"type": "point", "shape": "M-1,0A1,0.75,0,1,0,1,0A1,0.75,0,1,0,-1,0Z", "size": 2304, "filled": false, "color": "#bdbdbd", "strokeWidth": 1, "opacity": 1},
          "encoding": {"y": {"field": "p", "type": "quantitative", "axis": null}}
        },
        {
          "data": {"name": "txt"},
          "transform": [{"filter": "datum.g == 'ideal'"}],
          "mark": {"type": "text", "align": "left", "baseline": "middle", "font": "Open Sans", "fontSize": 13, "fontWeight": "bold", "color": "#e6e6e6"},
          "encoding": {"y": {"field": "p", "type": "quantitative", "axis": null}, "text": {"field": "t"}}
        },
        {
          "data": {"name": "txt"},
          "transform": [{"filter": "datum.g == 'weekly'"}],
          "mark": {"type": "text", "align": "center", "baseline": "middle", "font": "Open Sans", "fontSize": 30, "fontWeight": "bold", "color": "#d4d4d4"},
          "encoding": {"y": {"field": "p", "type": "quantitative", "axis": null}, "text": {"field": "t"}}
        }
      ]
    },
    {
      "width": 997,
      "height": 96,
      "data": {"name": "w"},
      "encoding": {
        "x": {"field": "d", "type": "temporal", "scale": {"type": "utc", "padding": 0, "domain": [{"year": 2013, "month": 5, "date": 12, "utc": true}, {"year": 2019, "month": 5, "date": 6, "utc": true}]}, "axis": {"labels": false, "grid": true, "gridColor": "#272c31", "tickCount": {"interval": "year", "step": 1}}}
      },
      "layer": [
        {
          "data": {"values": [{"p": 0}, {"p": 100}]},
          "mark": {"type": "rule", "color": "#272c31", "strokeWidth": 1},
          "encoding": {
            "x": null,
            "y": {"field": "p", "type": "quantitative", "scale": {"domain": [-2.2, 104.4], "nice": false, "zero": false}, "axis": null}
          }
        },
        {
          "data": {"name": "sticks"},
          "mark": {"type": "text", "align": "left", "baseline": "middle", "dx": 3, "font": "DejaVu Sans", "fontSize": 7, "color": "#8e9399"},
          "encoding": {
            "x": {"value": "width"},
            "y": {"field": "p", "type": "quantitative", "axis": null},
            "text": {"field": "lab"}
          }
        },
        {
          "transform": [{"window": [{"op": "mean", "field": "k", "as": "kd"}], "frame": [-2, 0], "sort": [{"field": "d"}]}],
          "mark": {"type": "line", "color": "#c0392b", "strokeWidth": 1},
          "encoding": {"y": {"field": "kd", "type": "quantitative", "axis": null}}
        },
        {
          "mark": {"type": "line", "color": "#dcdcdc", "strokeWidth": 1},
          "encoding": {"y": {"field": "k", "type": "quantitative", "axis": null}}
        }
      ]
    },
    {
      "width": 997,
      "height": 95,
      "data": {"name": "w"},
      "encoding": {
        "x": {"field": "d", "type": "temporal", "scale": {"type": "utc", "padding": 0, "domain": [{"year": 2013, "month": 5, "date": 12, "utc": true}, {"year": 2019, "month": 5, "date": 6, "utc": true}]}, "axis": {"orient": "bottom", "format": "%Y", "labelAlign": "left", "labelBaseline": "top", "labelPadding": 1, "grid": true, "gridColor": "#272c31", "tickCount": {"interval": "year", "step": 1}}}
      },
      "layer": [
        {
          "data": {"values": [{"p": 100}]},
          "mark": {"type": "rule", "color": "#272c31", "strokeWidth": 1},
          "encoding": {
            "x": null,
            "y": {"field": "p", "type": "quantitative", "scale": {"domain": [0, 144.8], "nice": false, "zero": true}, "axis": null}
          }
        },
        {
          "data": {"name": "vticks"},
          "mark": {"type": "text", "align": "left", "baseline": "middle", "dx": 3, "font": "DejaVu Sans", "fontSize": 7, "color": "#8e9399"},
          "encoding": {
            "x": {"value": "width"},
            "y": {"field": "p", "type": "quantitative", "axis": null},
            "text": {"field": "lab"}
          }
        },
        {
          "mark": {"type": "bar", "width": 2},
          "encoding": {
            "y": {"field": "v", "type": "quantitative", "axis": null},
            "color": {"condition": {"test": "datum.c >= datum.o", "value": "#58c35a"}, "value": "#bb524c"}
          }
        }
      ]
    }
  ]
}
